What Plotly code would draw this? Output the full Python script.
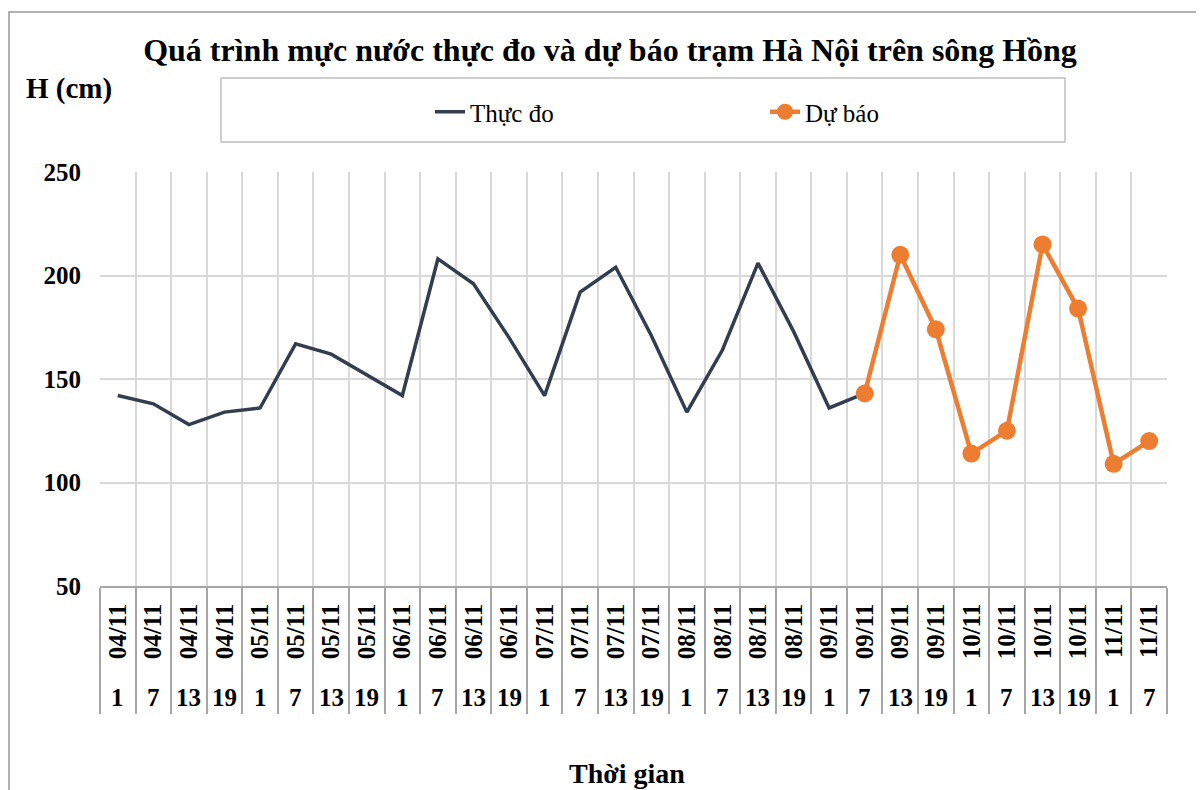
import plotly.graph_objects as go

# ---- data ----
dates = ["04/11", "04/11", "04/11", "04/11",
         "05/11", "05/11", "05/11", "05/11",
         "06/11", "06/11", "06/11", "06/11",
         "07/11", "07/11", "07/11", "07/11",
         "08/11", "08/11", "08/11", "08/11",
         "09/11", "09/11", "09/11", "09/11",
         "10/11", "10/11", "10/11", "10/11",
         "11/11", "11/11"]
hours = ["1", "7", "13", "19", "1", "7", "13", "19", "1", "7", "13", "19",
         "1", "7", "13", "19", "1", "7", "13", "19", "1", "7", "13", "19",
         "1", "7", "13", "19", "1", "7"]
observed = [142, 138, 128, 134, 136, 167, 162, 152, 142, 208, 196, 170,
            142, 192, 204, 171, 134, 164, 206, 173, 136, 143]
forecast = [143, 210, 174, 114, 125, 215, 184, 109, 120]
forecast_start = 21

title_text = "Quá trình mực nước thực đo và dự báo trạm Hà Nội trên sông Hồng"
y_title = "H (cm)"
x_title = "Thời gian"
series_names = ["Thực đo", "Dự báo"]

FONT = "Liberation Serif"
# page has an 8px body margin; size the figure so it fits the 1204x790 window
OFF = 8
W, H = 1204 - OFF, 790 - OFF
PAGE_L, PAGE_R, PAGE_T, PAGE_B = 100, 1167, 172, 586   # plot area in page pixels
L = PAGE_L - OFF
T = PAGE_T - OFF
R = W - (PAGE_R - OFF)
B = H - (PAGE_B - OFF)
PW = PAGE_R - PAGE_L
PH = PAGE_B - PAGE_T

n = len(dates)
xs = list(range(n))
obs_x = xs[:len(observed)]
fc_x = xs[forecast_start:forecast_start + len(forecast)]

fig = go.Figure()
fig.add_trace(go.Scatter(
    x=obs_x, y=observed, mode="lines", name=series_names[0],
    line=dict(color="#323E4F", width=3.5),
))
fig.add_trace(go.Scatter(
    x=fc_x, y=forecast, mode="lines+markers", name=series_names[1],
    line=dict(color="#ED7D31", width=4.5),
    marker=dict(color="#ED7D31", size=18),
))

def px_x(px):
    return (px - PAGE_L) / PW

def px_y(py):
    return (PAGE_B - py) / PH

# hour labels (second row of the category table)
annotations = []
for i, hlab in enumerate(hours):
    annotations.append(dict(
        x=i, xref="x", y=0, yref="paper", yshift=-111, yanchor="middle",
        text="<b>%s</b>" % hlab, showarrow=False,
        font=dict(family=FONT, size=25, color="black"),
    ))
annotations.append(dict(
    x=px_x(24), xref="paper", xanchor="left", y=px_y(88), yref="paper", yanchor="middle",
    text="<b>%s</b>" % y_title, showarrow=False,
    font=dict(family=FONT, size=29, color="black"),
))
annotations.append(dict(
    x=px_x(627), xref="paper", xanchor="center", y=0, yref="paper", yshift=-187, yanchor="middle",
    text="<b>%s</b>" % x_title, showarrow=False,
    font=dict(family=FONT, size=28, color="black"),
))

shapes = [
    # outer chart border
    dict(type="rect", xref="paper", yref="paper",
         x0=px_x(9), x1=px_x(1215), y0=px_y(800), y1=px_y(12),
         line=dict(color="#999999", width=1.5), layer="below"),
    # legend box
    dict(type="rect", xref="paper", yref="paper",
         x0=px_x(221), x1=px_x(1065), y0=px_y(142), y1=px_y(78),
         line=dict(color="#BFBFBF", width=1.5), layer="below"),
]

boundaries = [i - 0.5 for i in range(n + 1)]

fig.update_layout(
    width=W, height=H,
    margin=dict(l=L, r=R, t=T, b=B, pad=0),
    paper_bgcolor="white", plot_bgcolor="white",
    font=dict(family=FONT, color="black"),
    title=dict(text="<b>%s</b>" % title_text, x=(610 - OFF) / W, xref="container",
               xanchor="center", y=1 - (50 - OFF) / H, yref="container", yanchor="middle",
               font=dict(family=FONT, size=32, color="black")),
    showlegend=True,
    legend=dict(orientation="h", x=px_x(430), xanchor="left", y=px_y(112), yanchor="middle",
                font=dict(family=FONT, size=25, color="black"),
                bgcolor="rgba(0,0,0,0)", borderwidth=0, entrywidth=290,
                traceorder="normal"),
    xaxis=dict(
        range=[-0.5, n - 0.5], tickmode="array", tickvals=xs,
        ticktext=["<b>%s</b>" % d for d in dates], tickangle=-90,
        tickfont=dict(family=FONT, size=25, color="black"),
        ticks="", showgrid=False, zeroline=False,
        showline=True, linecolor="#A6A6A6", linewidth=1.5,
        ticklabelstandoff=6,
        minor=dict(tickmode="array", tickvals=boundaries, ticks="outside", ticklen=126,
                   tickcolor="#A6A6A6", tickwidth=1.5, showgrid=True,
                   gridcolor="#D9D9D9", gridwidth=1.5),
        fixedrange=True,
    ),
    yaxis=dict(
        range=[50, 250], tickmode="linear", tick0=50, dtick=50,
        tickfont=dict(family=FONT, size=25, color="black"),
        tickprefix="<b>", ticksuffix="</b>",
        showgrid=True, gridcolor="#D9D9D9", gridwidth=1.5,
        zeroline=False, showline=False, ticks="", ticklabelstandoff=18,
        fixedrange=True,
    ),
    annotations=annotations,
    shapes=shapes,
)

fig.write_html("out.html")
